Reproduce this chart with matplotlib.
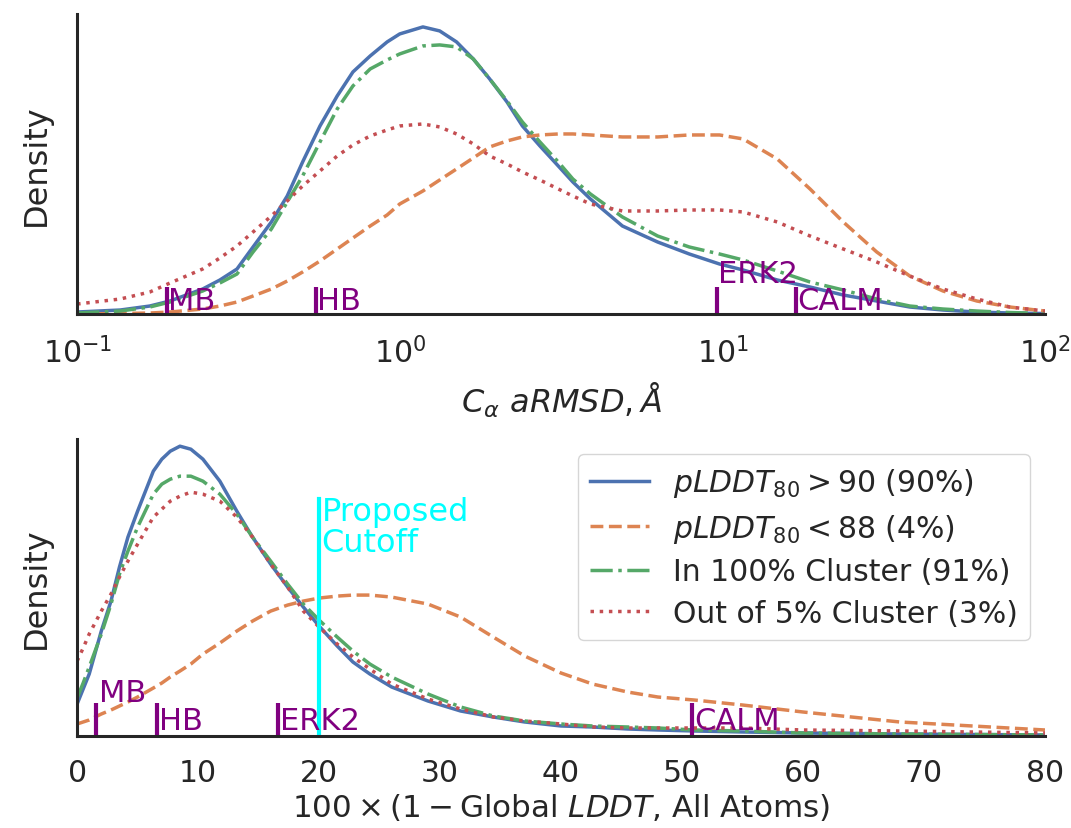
import matplotlib
matplotlib.use("Agg")
import matplotlib.pyplot as plt

# ---- top panel: C-alpha aRMSD (log x) ----
rmsd_x = [0.10, 0.136, 0.168, 0.194, 0.245, 0.277, 0.313, 0.351, 0.40, 0.448,
          0.50, 0.566, 0.64, 0.716, 0.81, 0.914, 1.0, 1.18, 1.33, 1.5,
          1.69, 1.9, 2.15, 2.4, 2.72, 3.1, 3.44, 3.9, 4.9, 6.3,
          7.9, 9.8, 11.6, 14.8, 18.7, 23.7, 30.1, 38.1, 48.3, 61.5,
          77.8, 100]
rmsd_high = [0.02, 0.04, 0.08, 0.13, 0.25, 0.34, 0.45, 0.67, 0.92, 1.18,
             1.52, 1.88, 2.18, 2.42, 2.58, 2.72, 2.80, 2.87, 2.83, 2.72,
             2.55, 2.35, 2.12, 1.88, 1.68, 1.48, 1.32, 1.15, 0.88, 0.72,
             0.60, 0.50, 0.44, 0.34, 0.27, 0.19, 0.13, 0.07, 0.04, 0.02,
             0.01, 0.005]
rmsd_low = [0.0, 0.005, 0.01, 0.02, 0.05, 0.08, 0.12, 0.18, 0.25, 0.33,
            0.42, 0.53, 0.65, 0.76, 0.88, 0.99, 1.10, 1.23, 1.34, 1.45,
            1.56, 1.67, 1.73, 1.77, 1.79, 1.80, 1.80, 1.79, 1.77, 1.77,
            1.79, 1.79, 1.75, 1.55, 1.25, 0.92, 0.62, 0.38, 0.23, 0.13,
            0.07, 0.03]
rmsd_in100 = [0.01, 0.03, 0.07, 0.12, 0.23, 0.31, 0.40, 0.62, 0.85, 1.12,
              1.38, 1.72, 2.05, 2.28, 2.45, 2.54, 2.60, 2.68, 2.69, 2.67,
              2.55, 2.35, 2.13, 1.92, 1.72, 1.52, 1.35, 1.20, 0.97, 0.78,
              0.67, 0.60, 0.54, 0.43, 0.32, 0.24, 0.15, 0.08, 0.05, 0.03,
              0.015, 0.005]
rmsd_out5 = [0.10, 0.15, 0.22, 0.31, 0.45, 0.56, 0.68, 0.82, 0.98, 1.13,
             1.28, 1.43, 1.58, 1.69, 1.78, 1.84, 1.88, 1.90, 1.87, 1.80,
             1.70, 1.58, 1.50, 1.42, 1.34, 1.25, 1.18, 1.10, 1.03, 1.03,
             1.04, 1.04, 1.02, 0.92, 0.78, 0.65, 0.52, 0.38, 0.25, 0.15,
             0.07, 0.03]

# ---- bottom panel: 100 x (1 - global LDDT) ----
lddt_x = [0, 0.5, 1, 2, 2.8, 3.5, 4.2, 5, 6.3, 7.0,
          7.7, 8.5, 9.4, 10.4, 11.8, 13.2, 14.5, 16, 17.4, 18.7,
          20, 21.5, 22.8, 24.2, 26, 29, 31.7, 34.4, 37, 40,
          42.6, 45.5, 48, 51, 55, 60, 68, 80]
lddt_high = [0.32, 0.47, 0.62, 1.05, 1.35, 1.69, 1.99, 2.25, 2.65, 2.77,
             2.85, 2.90, 2.87, 2.77, 2.55, 2.25, 1.99, 1.72, 1.49, 1.29,
             1.10, 0.90, 0.74, 0.62, 0.49, 0.35, 0.25, 0.19, 0.14, 0.10,
             0.09, 0.07, 0.06, 0.05, 0.04, 0.03, 0.02, 0.01]
lddt_low = [0.12, 0.14, 0.16, 0.22, 0.26, 0.30, 0.34, 0.39, 0.48, 0.53,
            0.59, 0.65, 0.72, 0.82, 0.93, 1.05, 1.15, 1.25, 1.31, 1.35,
            1.38, 1.40, 1.41, 1.41, 1.39, 1.32, 1.19, 0.99, 0.80, 0.63,
            0.52, 0.44, 0.39, 0.36, 0.31, 0.24, 0.14, 0.06]
lddt_in100 = [0.38, 0.53, 0.69, 1.02, 1.32, 1.62, 1.85, 2.09, 2.42, 2.52,
              2.57, 2.60, 2.60, 2.55, 2.42, 2.22, 1.99, 1.75, 1.52, 1.32,
              1.16, 0.99, 0.85, 0.72, 0.59, 0.42, 0.29, 0.20, 0.15, 0.12,
              0.10, 0.09, 0.08, 0.06, 0.05, 0.03, 0.02, 0.01]
lddt_out5 = [0.75, 0.88, 1.02, 1.25, 1.42, 1.59, 1.75, 1.92, 2.19, 2.27,
             2.35, 2.40, 2.44, 2.42, 2.35, 2.19, 1.99, 1.72, 1.49, 1.25,
             1.09, 0.92, 0.79, 0.67, 0.52, 0.37, 0.27, 0.19, 0.15, 0.12,
             0.09, 0.08, 0.08, 0.08, 0.08, 0.06, 0.05, 0.03]

legend = [r"$pLDDT_{80} > 90$ (90%)", r"$pLDDT_{80} < 88$ (4%)",
          "In 100% Cluster (91%)", "Out of 5% Cluster (3%)"]

# reference proteins
ref_names = ["MB", "HB", "ERK2", "CALM"]
ref_rmsd = [0.19, 0.55, 9.6, 16.9]
ref_lddt = [1.6, 6.6, 16.6, 50.8]
cutoff = 20


def main():
    plt.rcParams["font.family"] = "DejaVu Sans"
    plt.rcParams["font.size"] = 21.5
    plt.rcParams["text.color"] = "#262626"
    plt.rcParams["axes.labelcolor"] = "#262626"
    plt.rcParams["xtick.color"] = "#262626"
    plt.rcParams["mathtext.fontset"] = "dejavusans"

    fig = plt.figure(figsize=(10.71, 8.29), dpi=100)
    ax1 = fig.add_axes([0.072, 0.620, 0.9037, 0.362])
    ax2 = fig.add_axes([0.072, 0.111, 0.9037, 0.358])

    colors = ["#4C72B0", "#DD8452", "#55A868", "#C44E52"]
    styles = ["-", "--", "-.", ":"]
    lw = 2.5

    series_top = [rmsd_high, rmsd_low, rmsd_in100, rmsd_out5]
    series_bot = [lddt_high, lddt_low, lddt_in100, lddt_out5]
    for i in range(4):
        ax1.plot(rmsd_x, series_top[i], color=colors[i], ls=styles[i], lw=lw)
        ax2.plot(lddt_x, series_bot[i], color=colors[i], ls=styles[i], lw=lw, label=legend[i])

    ax1.set_xscale("log")
    ax1.set_xlim(0.1, 100)
    ax1.set_ylim(0, 3.0)
    ax2.set_xlim(0, 80)
    ax2.set_ylim(0, 2.97)

    # reference markers, top
    tr1 = ax1.get_xaxis_transform()
    top_text_y = [0.017, 0.017, 0.107, 0.017]
    for name, x, ty in zip(ref_names, ref_rmsd, top_text_y):
        ax1.plot([x, x], [0, 0.09], color="purple", lw=3, transform=tr1, solid_capstyle="butt")
        ax1.text(x * 1.01, ty, name, color="purple", transform=tr1, ha="left",
                 va="baseline", fontsize=22)

    # reference markers, bottom
    tr2 = ax2.get_xaxis_transform()
    bot_text_y = [0.118, 0.024, 0.024, 0.024]
    for name, x, ty in zip(ref_names, ref_lddt, bot_text_y):
        ax2.plot([x, x], [0, 0.11], color="purple", lw=3, transform=tr2, solid_capstyle="butt")
        ax2.text(x + 0.2, ty, name, color="purple", transform=tr2, ha="left",
                 va="baseline", fontsize=22)

    ax2.plot([cutoff, cutoff], [0, 0.80], color="cyan", lw=3, transform=tr2)
    ax2.text(cutoff + 0.2, 0.81, "Proposed\nCutoff", color="cyan", transform=tr2,
             ha="left", va="top", linespacing=1.0, fontsize=23)

    for ax in (ax1, ax2):
        ax.set_yticks([])
        ax.set_ylabel("Density", labelpad=18, fontsize=23)
        ax.tick_params(axis="x", length=0, pad=16)
        for side in ("top", "right"):
            ax.spines[side].set_visible(False)
        for side in ("left", "bottom"):
            ax.spines[side].set_linewidth(2.2)
            ax.spines[side].set_color("#262626")
    ax1.minorticks_off()
    ax1.set_xticks([0.1, 1, 10, 100])

    ax1.set_xlabel(r"$C_{\alpha}\ aRMSD, \mathit{Å}$", labelpad=8, fontsize=23)
    ax2.set_xlabel(r"$100 \times (1 - $Global $LDDT$, All Atoms)", labelpad=3, fontsize=22.3)

    ax2.legend(loc="upper right", fontsize=21.5, frameon=True, fancybox=True,
               edgecolor="#cccccc", handlelength=2.0, labelspacing=0.42)

    fig.savefig("out.png", dpi=100)


if __name__ == "__main__":
    main()
